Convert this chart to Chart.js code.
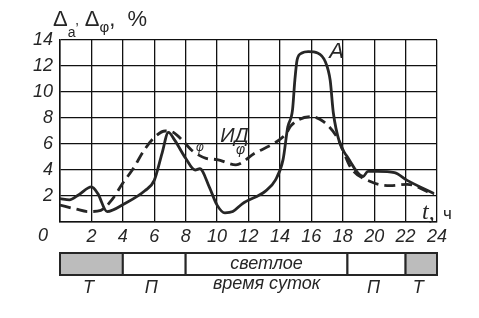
<!DOCTYPE html>
<html>
<head>
<meta charset="utf-8">
<script src="https://cdn.jsdelivr.net/npm/chart.js@4"></script>
<style>
  html, body { margin: 0; padding: 0; background: #fff; }
  canvas { display: block; }
</style>
</head>
<body>
<canvas id="myChart" width="479" height="318"></canvas>
<script>
// curve A (solid)
const hoursA = [0, 0.6, 1.2, 2.0, 2.4, 3.0, 4.1, 5.4, 6.0, 6.5, 6.9, 7.3, 8.0, 8.6, 8.9, 9.5, 10.0, 10.5, 11.0, 11.6, 13.1, 13.7, 14.2, 14.5, 14.8, 14.95, 15.1, 15.4, 15.8, 16.4, 16.9, 17.2, 17.4, 17.8, 18.3, 19.3, 19.6, 20.2, 21.3, 22.1, 23.8];
const valuesA = [1.8, 1.7, 2.1, 2.7, 2.2, 0.8, 1.4, 2.4, 3.2, 5.3, 6.9, 6.3, 4.9, 4.0, 4.1, 2.7, 1.3, 0.7, 0.8, 1.4, 2.4, 3.2, 4.8, 7.3, 8.6, 10.9, 12.5, 13.0, 13.1, 13.0, 12.3, 10.9, 8.4, 6.1, 5.0, 3.5, 3.9, 3.9, 3.8, 3.2, 2.2];

// curve A_phi (dashed)
const hoursPhi = [0, 1.0, 1.8, 2.6, 3.3, 4.0, 4.6, 5.4, 6.0, 6.7, 7.2, 7.85, 8.4, 9.3, 10.0, 11.2, 12.4, 13.7, 14.4, 14.7, 16.0, 16.8, 17.7, 18.5, 19.8, 21.0, 22.1, 23.8];
const valuesPhi = [1.3, 1.0, 0.8, 0.9, 1.7, 3.0, 4.0, 5.6, 6.5, 7.0, 6.9, 6.2, 5.5, 4.9, 4.8, 4.4, 5.3, 6.1, 6.8, 7.4, 8.1, 7.7, 6.4, 4.2, 3.1, 2.8, 2.9, 2.1];

// time of day strip
const periodStart = [0, 4, 8, 18.3, 22];
const periodEnd = [4, 8, 18.3, 22, 24];
const periodLabels = ['Т', 'П', 'светлое', 'П', 'Т'];

const ctx = document.getElementById('myChart');
const ink = '#262626';
const font = 'italic 18px "Liberation Sans", Arial, sans-serif';

function toPoints(xs, ys) {
  return xs.map((x, i) => ({ x: x, y: ys[i] }));
}

const extras = {
  id: 'extras',
  afterDraw(chart) {
    const c = chart.ctx;
    const x = chart.scales.x;
    const y = chart.scales.y;
    c.save();
    c.fillStyle = ink;
    c.textBaseline = 'alphabetic';

    // axis title
    let px = 53;
    const parts = [
      ['Δ', 22, 26], ['a', 14, 37], ['\u2019', 14, 33], [' Δ', 22, 26], ['φ', 15, 32], [',  %', 22, 26]
    ];
    parts.forEach(p => {
      c.font = p[1] + 'px "Liberation Sans", Arial, sans-serif';
      c.fillText(p[0], px, p[2]);
      px += c.measureText(p[0]).width;
    });

    // origin label
    c.font = font;
    c.textAlign = 'center';
    c.textBaseline = 'middle';
    c.fillText('0', 43, 236);

    // curve labels
    c.font = 'italic 22px "Liberation Sans", Arial, sans-serif';
    c.fillText('A', x.getPixelForValue(17.6), y.getPixelForValue(13.1));
    c.font = 'italic 20px "Liberation Sans", Arial, sans-serif';
    c.fillText('ИД', x.getPixelForValue(11.1), y.getPixelForValue(6.6));
    c.font = 'italic 14px "Liberation Sans", Arial, sans-serif';
    c.fillText('φ', x.getPixelForValue(11.5), y.getPixelForValue(5.5));
    c.font = 'italic 12px "Liberation Sans", Arial, sans-serif';
    c.fillText('φ', x.getPixelForValue(8.9), y.getPixelForValue(5.7));

    // t, ч
    c.textAlign = 'left';
    c.textBaseline = 'alphabetic';
    c.font = 'italic 24px "Liberation Serif", serif';
    c.fillText('t,', 422, 219);
    c.font = '17px "Liberation Sans", Arial, sans-serif';
    c.fillText('ч', 443, 219);

    // day strip
    const top = 253, bottom = 275;
    c.lineWidth = 2;
    c.strokeStyle = ink;
    for (let i = 0; i < periodStart.length; i++) {
      const x0 = x.getPixelForValue(periodStart[i]);
      const x1 = x.getPixelForValue(periodEnd[i]);
      c.fillStyle = periodLabels[i] === 'Т' ? '#bcbcbc' : '#fff';
      c.fillRect(x0, top, x1 - x0, bottom - top);
      c.strokeRect(x0, top, x1 - x0, bottom - top);
      c.fillStyle = ink;
      c.font = font;
      c.textAlign = 'center';
      c.textBaseline = 'middle';
      const mid = (x0 + x1) / 2;
      if (periodLabels[i] === 'светлое') {
        c.fillText('светлое', mid, 264);
        c.fillText('время суток', mid, 284);
      } else {
        c.fillText(periodLabels[i], mid - 3, 288);
      }
    }
    c.restore();
  }
};

new Chart(ctx, {
  type: 'line',
  data: {
    datasets: [{
      label: 'A',
      data: toPoints(hoursA, valuesA),
      borderColor: ink,
      borderWidth: 2.8,
      pointRadius: 0,
      cubicInterpolationMode: 'monotone',
      fill: false
    }, {
      label: 'A_phi',
      data: toPoints(hoursPhi, valuesPhi),
      borderColor: ink,
      borderWidth: 2.8,
      borderDash: [11, 6],
      pointRadius: 0,
      cubicInterpolationMode: 'monotone',
      fill: false
    }]
  },
  options: {
    responsive: false,
    animation: false,
    layout: { padding: { top: 40, right: 42, left: 0, bottom: 0 } },
    plugins: { legend: { display: false }, tooltip: { enabled: false } },
    scales: {
      x: {
        type: 'linear',
        min: 0,
        max: 24,
        afterFit: (s) => { s.height = 96; },
        ticks: {
          stepSize: 2,
          padding: 4,
          color: ink,
          font: { family: '"Liberation Sans", Arial, sans-serif', size: 18, style: 'italic' },
          callback: (v) => v === 0 ? '' : v,
          maxRotation: 0
        },
        grid: { color: '#111', lineWidth: 1.3, drawTicks: false },
        border: { color: '#111', width: 1.5 }
      },
      y: {
        min: 0,
        max: 14,
        afterFit: (s) => { s.width = 60; },
        ticks: {
          stepSize: 2,
          padding: 7,
          color: ink,
          font: { family: '"Liberation Sans", Arial, sans-serif', size: 18, style: 'italic' },
          callback: (v) => v === 0 ? '' : v
        },
        grid: { color: '#111', lineWidth: 1.3, drawTicks: false },
        border: { color: '#111', width: 1.5 }
      }
    }
  },
  plugins: [extras]
});
</script>
</body>
</html>
